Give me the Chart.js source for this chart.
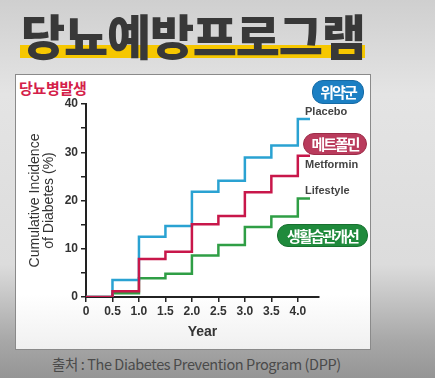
<!DOCTYPE html>
<html><head><meta charset="utf-8">
<script src="https://cdn.jsdelivr.net/npm/chart.js@4"></script>
<style>
html,body{margin:0;padding:0;width:435px;height:378px;overflow:hidden;}
body{position:relative;background:linear-gradient(180deg,#cfcfcf 0%,#e4e4e4 25%,#dcdcdc 70%,#a8a8a8 90%,#959595 100%);font-family:'Liberation Sans',Arial,sans-serif;}
.abs{position:absolute;white-space:nowrap;}
#title{left:21px;top:8px;font-family:'Noto Sans CJK KR';font-weight:900;font-size:48px;line-height:52px;color:#383838;letter-spacing:-1.2px;z-index:2;}
#hl{left:20px;top:45px;width:345px;height:13px;background:#f6c700;z-index:1;}
#box{left:15px;top:74px;width:354px;height:274px;border:1px solid #8a8a8a;background:linear-gradient(180deg,#fff 0%,#fff 80%,#f0f0f0 100%);}
#sub{left:19px;top:79px;font-family:'Noto Sans CJK KR';font-weight:700;font-size:15px;line-height:18px;color:#d42049;letter-spacing:-0.3px;}
.pill{font-family:'Noto Sans CJK KR';font-weight:700;font-size:15px;line-height:20px;color:#fff;letter-spacing:-2px;text-align:center;border-radius:11px;z-index:3;}
.lab{font-weight:700;font-size:11px;line-height:13px;color:#444;z-index:3;}
#src{left:52px;top:355px;font-family:'Noto Sans CJK KR';font-size:14.5px;line-height:18px;color:#4a4a4a;letter-spacing:-0.4px;}
canvas{position:absolute;left:0;top:0;}
</style></head><body>
<div id="box" class="abs"></div>
<div id="hl" class="abs"></div>
<div id="title" class="abs">당뇨예방프로그램</div>
<div id="sub" class="abs">당뇨병발생</div>
<div class="abs pill" style="left:312px;top:80px;width:50px;height:22px;background:#1b7fc3;border:1px solid #156aa5;line-height:22px;">위약군</div>
<div class="abs pill" style="left:303px;top:133px;width:62px;height:20px;background:#b93b5c;border:1px solid #9c2c48;">메트폴민</div>
<div class="abs pill" style="left:277px;top:224px;width:89px;height:21px;background:#1f8a3c;border:1px solid #17702f;line-height:21px;">생활습관개선</div>
<div class="abs lab" style="left:305px;top:105px;">Placebo</div>
<div class="abs lab" style="left:305px;top:158px;">Metformin</div>
<div class="abs lab" style="left:305px;top:184px;">Lifestyle</div>
<div id="src" class="abs">출처 : The Diabetes Prevention Program (DPP)</div>
<canvas id="c" width="435" height="378"></canvas>
<script>
const years = [0, 0.5, 1.0, 1.5, 2.0, 2.5, 3.0, 3.5, 4.0, 4.23];
const placebo = [0, 3.5, 12.5, 14.7, 21.8, 24.1, 28.9, 31.4, 36.9, 36.9];
const metformin = [0, 1.2, 7.9, 9.4, 15.1, 16.8, 21.7, 25.1, 29.3, 29.3];
const lifestyle = [0, 0.8, 3.9, 4.8, 8.6, 10.8, 14.5, 16.7, 20.4, 20.4];
const xTicks = [0, 0.5, 1.0, 1.5, 2.0, 2.5, 3.0, 3.5, 4.0];
const yTicks = [0, 5, 10, 15, 20, 25, 30, 35, 40];
const yLabeled = [0, 10, 20, 30, 40];
const seriesNames = ['Placebo', 'Metformin', 'Lifestyle'];

const pts = arr => years.map((x, i) => ({x, y: arr[i]}));
const tickFont = {family: "'Liberation Sans', Arial, sans-serif", size: 12, weight: 'bold'};

new Chart(document.getElementById('c'), {
  type: 'line',
  data: {
    datasets: [
      {label: seriesNames[1], data: pts(metformin), borderColor: '#c8174a', order: 0},
      {label: seriesNames[0], data: pts(placebo), borderColor: '#2aa2d2', order: 1},
      {label: seriesNames[2], data: pts(lifestyle), borderColor: '#2f9e45', order: 2}
    ].map(d => Object.assign(d, {stepped: true, borderWidth: 2.5, pointRadius: 0, fill: false, tension: 0}))
  },
  options: {
    responsive: false,
    animation: false,
    devicePixelRatio: 1,
    layout: {padding: {left: 28, right: 116, top: 104, bottom: 38}},
    plugins: {legend: {display: false}, tooltip: {enabled: false}},
    scales: {
      x: {
        type: 'linear', min: 0, max: 4.4,
        afterBuildTicks: s => { s.ticks = xTicks.map(v => ({value: v})); },
        afterFit: s => { s.height = 43; },
        ticks: {color: '#333', font: tickFont, padding: 2, autoSkip: false, maxRotation: 0,
          callback: v => v === 0 ? '0' : Number(v).toFixed(1)},
        grid: {display: true, drawOnChartArea: false, drawTicks: true, tickLength: 5, color: '#222', lineWidth: 1.5},
        border: {display: true, color: '#222', width: 2},
        title: {display: true, text: 'Year', color: '#333', font: {family: "'Liberation Sans', Arial, sans-serif", size: 14, weight: 'bold', lineHeight: 1.15}, padding: 0}
      },
      y: {
        type: 'linear', min: 0, max: 40,
        afterBuildTicks: s => { s.ticks = yTicks.map(v => ({value: v})); },
        afterFit: s => { s.width = 58; },
        ticks: {color: '#333', font: tickFont, padding: 3, autoSkip: false,
          callback: v => yLabeled.includes(v) ? String(v) : ''},
        grid: {display: true, drawOnChartArea: false, drawTicks: true, tickLength: 5, color: '#222', lineWidth: 1.5},
        border: {display: true, color: '#222', width: 2},
        title: {display: true, text: ['Cumulative Incidence', 'of Diabetes (%)'], color: '#333', font: {family: "'Liberation Sans', Arial, sans-serif", size: 14, weight: 'normal', lineHeight: 1.0}, padding: 0}
      }
    }
  }
});
</script>
</body></html>
